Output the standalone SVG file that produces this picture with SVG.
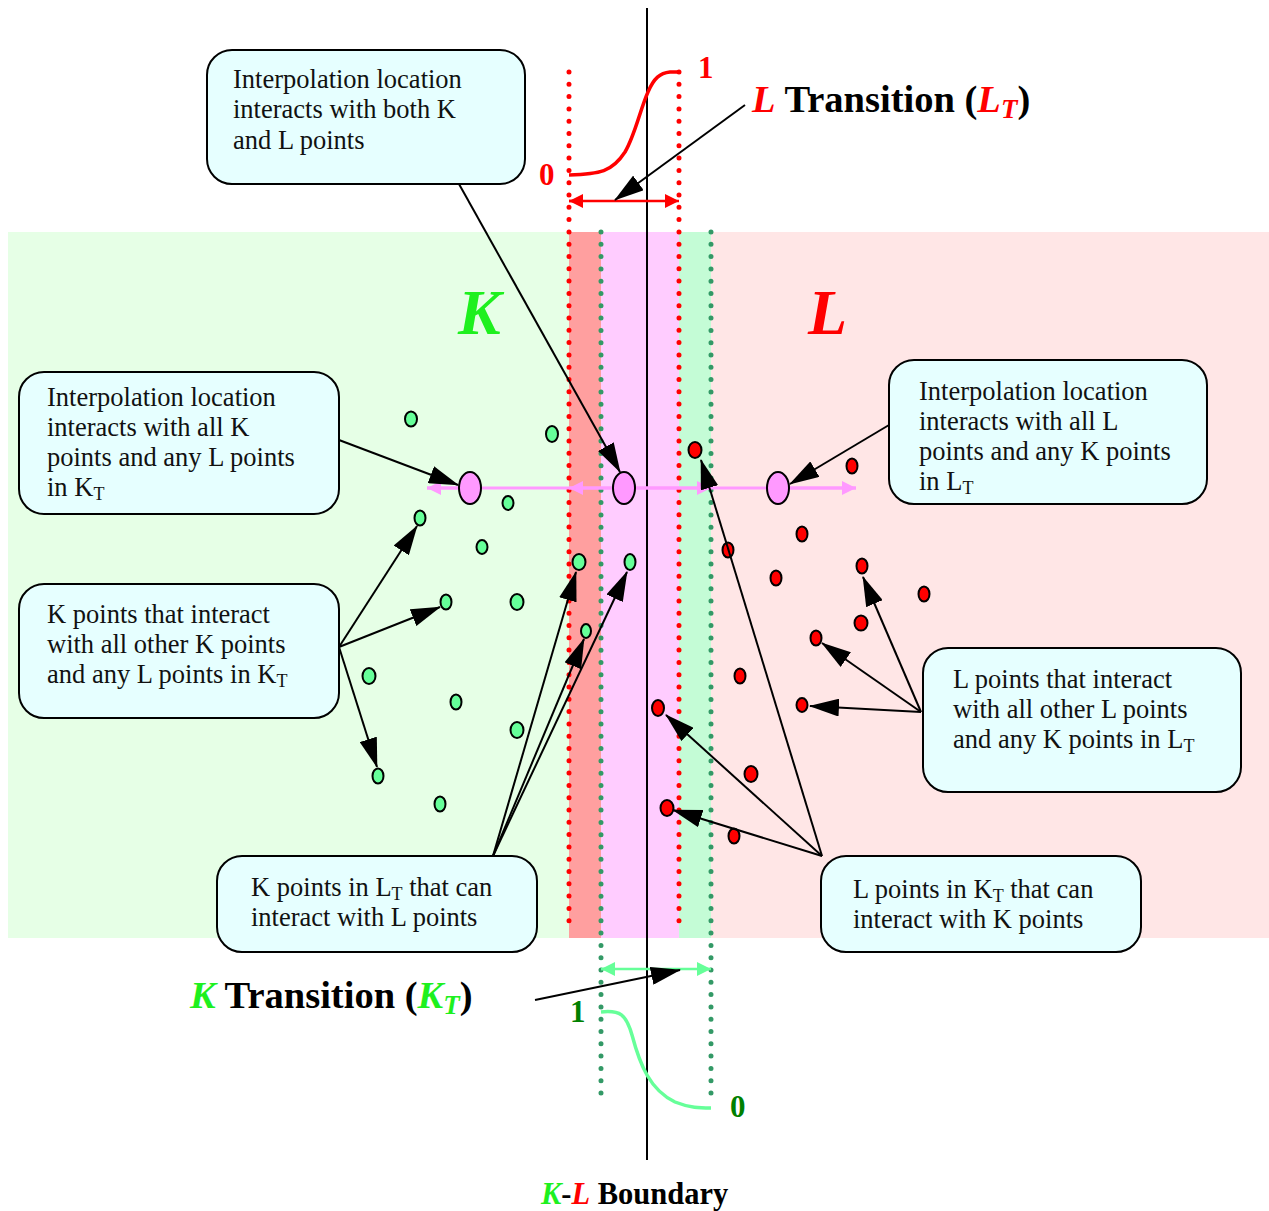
<svg xmlns="http://www.w3.org/2000/svg" width="1269" height="1211" viewBox="0 0 1269 1211">
<style>
.box{fill:#e6ffff;stroke:#000;stroke-width:2}
.bt{font-family:"Liberation Serif","Times New Roman",serif;font-size:26.5px;fill:#111}
.sub{font-size:18px}
.ttl{font-family:"Liberation Serif","Times New Roman",serif;font-weight:bold;font-size:38.5px;fill:#000}
.num{font-family:"Liberation Serif","Times New Roman",serif;font-weight:bold;font-size:31px}
.gd{fill:#66ff99;stroke:#000;stroke-width:2}
.rd{fill:#ff0000;stroke:#000;stroke-width:2}
.il{fill:#ff99ff;stroke:#000;stroke-width:2}
.dotr{stroke:#ff0000;stroke-width:5;stroke-linecap:round;stroke-dasharray:0 12.3;fill:none}
.dotg{stroke:#339966;stroke-width:5;stroke-linecap:round;stroke-dasharray:0 12.3;fill:none}
.ar{stroke:#000;stroke-width:2;fill:none;marker-end:url(#ah)}
.pk{stroke:#ff99ff;stroke-width:3;fill:none}
</style>
<defs>
<marker id="ah" markerUnits="userSpaceOnUse" markerWidth="30" markerHeight="18" viewBox="0 0 30 18" refX="29" refY="9" orient="auto"><path d="M0,0 L30,9 L0,18 z" fill="#000"/></marker>
<marker id="ph" markerUnits="userSpaceOnUse" markerWidth="14" markerHeight="14" viewBox="0 0 14 14" refX="14" refY="7" orient="auto"><path d="M0,0 L14,7 L0,14 z" fill="#ff99ff"/></marker>
<marker id="rh" markerUnits="userSpaceOnUse" markerWidth="14" markerHeight="14" viewBox="0 0 14 14" refX="14" refY="7" orient="auto"><path d="M0,0 L14,7 L0,14 z" fill="#ff0000"/></marker>
<marker id="gh" markerUnits="userSpaceOnUse" markerWidth="14" markerHeight="14" viewBox="0 0 14 14" refX="14" refY="7" orient="auto"><path d="M0,0 L14,7 L0,14 z" fill="#66ff99"/></marker>
</defs>
<rect width="1269" height="1211" fill="#fff"/>
<g id="regions">
<rect x="8" y="232" width="561" height="706" fill="#e6ffe6"/>
<rect x="711" y="232" width="558" height="706" fill="#ffe6e6"/>
<rect x="569" y="232" width="32" height="706" fill="#ff9f9f"/>
<rect x="601" y="232" width="78" height="706" fill="#ffccff"/>
<rect x="679" y="232" width="32" height="706" fill="#c4fcd6"/>
</g>
<g id="guides">
<line class="dotr" x1="569" y1="72" x2="569" y2="932"/>
<line class="dotr" x1="679" y1="72" x2="679" y2="932"/>
<line class="dotg" x1="601" y1="232" x2="601" y2="1105"/>
<line class="dotg" x1="711" y1="232" x2="711" y2="1105"/>
<line x1="647" y1="8" x2="647" y2="1160" stroke="#000" stroke-width="2"/>
<path d="M569,175 C600,174 612,172 625,152 C635,135 640,110 648,92 C654,78 660,73 670,72 L679,72" stroke="#ff0000" stroke-width="3.5" fill="none"/>
<path d="M601,1012 C620,1010 626,1014 632,1035 C640,1065 650,1090 675,1102 C690,1108 700,1108 711,1108" stroke="#66ff99" stroke-width="3.5" fill="none"/>
<line x1="575" y1="201" x2="569" y2="201" stroke="#ff0000" stroke-width="2.5" marker-end="url(#rh)"/>
<line x1="569" y1="201" x2="679" y2="201" stroke="#ff0000" stroke-width="2.5" marker-end="url(#rh)"/>
<line x1="607" y1="969" x2="601" y2="969" stroke="#66ff99" stroke-width="2.5" marker-end="url(#gh)"/>
<line x1="601" y1="969" x2="711" y2="969" stroke="#66ff99" stroke-width="2.5" marker-end="url(#gh)"/>
<line class="pk" x1="427" y1="488" x2="856" y2="488"/>
<line class="pk" x1="470" y1="488" x2="427" y2="488" marker-end="url(#ph)"/>
<line class="pk" x1="623" y1="488" x2="569" y2="488" marker-end="url(#ph)"/>
<line class="pk" x1="623" y1="488" x2="711" y2="488" marker-end="url(#ph)"/>
<line class="pk" x1="777" y1="488" x2="856" y2="488" marker-end="url(#ph)"/>
</g>
<g id="labels">
<text class="num" x="539" y="185" fill="#ff0000">0</text>
<text class="num" x="698" y="78" fill="#ff0000">1</text>
<text class="num" x="570" y="1022" fill="#008000">1</text>
<text class="num" x="730" y="1117" fill="#008000">0</text>
<text class="ttl" x="752" y="112"><tspan fill="#ff0000" font-style="italic">L</tspan> Transition (<tspan fill="#ff0000" font-style="italic">L</tspan><tspan fill="#ff0000" font-style="italic" font-size="27" dy="6">T</tspan><tspan dy="-6">)</tspan></text>
<text class="ttl" x="190" y="1008"><tspan fill="#1ef01e" font-style="italic">K</tspan> Transition (<tspan fill="#1ef01e" font-style="italic">K</tspan><tspan fill="#1ef01e" font-style="italic" font-size="27" dy="6">T</tspan><tspan dy="-6">)</tspan></text>
<text x="541" y="1204" font-family="Liberation Serif, serif" font-weight="bold" font-size="30.5"><tspan fill="#1ef01e" font-style="italic">K</tspan><tspan fill="#000">-</tspan><tspan fill="#ff0000" font-style="italic">L</tspan><tspan fill="#000"> Boundary</tspan></text>
<text x="458" y="334" font-family="Liberation Serif, serif" font-weight="bold" font-style="italic" font-size="64" fill="#1ef01e">K</text>
<text x="808" y="334" font-family="Liberation Serif, serif" font-weight="bold" font-style="italic" font-size="64" fill="#ff0000">L</text>
</g>
<g id="box-both">
<rect class="box" x="207" y="50" width="318" height="134" rx="25"/>
<text class="bt" x="233" y="88">Interpolation location</text>
<text class="bt" x="233" y="118">interacts with both K</text>
<text class="bt" x="233" y="149">and L points</text>
</g>
<g id="box-interp-k">
<rect class="box" x="19" y="372" width="320" height="142" rx="25"/>
<text class="bt" x="47" y="406">Interpolation location</text>
<text class="bt" x="47" y="436">interacts with all K</text>
<text class="bt" x="47" y="466">points and any L points</text>
<text class="bt" x="47" y="496">in K<tspan class="sub" dy="4">T</tspan></text>
</g>
<g id="box-k-points">
<rect class="box" x="19" y="584" width="320" height="134" rx="25"/>
<text class="bt" x="47" y="623">K points that interact</text>
<text class="bt" x="47" y="653">with all other K points</text>
<text class="bt" x="47" y="683">and any L points in K<tspan class="sub" dy="4">T</tspan></text>
</g>
<g id="box-interp-l">
<rect class="box" x="889" y="360" width="318" height="144" rx="25"/>
<text class="bt" x="919" y="400">Interpolation location</text>
<text class="bt" x="919" y="430">interacts with all L</text>
<text class="bt" x="919" y="460">points and any K points</text>
<text class="bt" x="919" y="490">in L<tspan class="sub" dy="4">T</tspan></text>
</g>
<g id="box-l-points">
<rect class="box" x="923" y="648" width="318" height="144" rx="25"/>
<text class="bt" x="953" y="688">L points that interact</text>
<text class="bt" x="953" y="718">with all other L points</text>
<text class="bt" x="953" y="748">and any K points in L<tspan class="sub" dy="4">T</tspan></text>
</g>
<g id="box-k-in-lt">
<rect class="box" x="217" y="856" width="320" height="96" rx="25"/>
<text class="bt" x="251" y="896">K points in L<tspan class="sub" dy="4">T</tspan><tspan dy="-4"> that can</tspan></text>
<text class="bt" x="251" y="926">interact with L points</text>
</g>
<g id="box-l-in-kt">
<rect class="box" x="821" y="856" width="320" height="96" rx="25"/>
<text class="bt" x="853" y="898">L points in K<tspan class="sub" dy="4">T</tspan><tspan dy="-4"> that can</tspan></text>
<text class="bt" x="853" y="928">interact with K points</text>
</g>
<g id="k-points">
<ellipse class="gd" cx="411" cy="419" rx="6" ry="7.5"/>
<ellipse class="gd" cx="552" cy="434" rx="6" ry="8"/>
<ellipse class="gd" cx="508" cy="503" rx="5.5" ry="7"/>
<ellipse class="gd" cx="420" cy="518" rx="5.5" ry="7.5"/>
<ellipse class="gd" cx="482" cy="547" rx="5.5" ry="7"/>
<ellipse class="gd" cx="446" cy="602" rx="5.5" ry="7.5"/>
<ellipse class="gd" cx="517" cy="602" rx="6.5" ry="8"/>
<ellipse class="gd" cx="369" cy="676" rx="6.5" ry="8"/>
<ellipse class="gd" cx="456" cy="702" rx="5.5" ry="7.5"/>
<ellipse class="gd" cx="517" cy="730" rx="6.5" ry="8"/>
<ellipse class="gd" cx="378" cy="776" rx="5.5" ry="7.5"/>
<ellipse class="gd" cx="440" cy="804" rx="5.5" ry="7.5"/>
<ellipse class="gd" cx="579" cy="562" rx="6.5" ry="8"/>
<ellipse class="gd" cx="630" cy="562" rx="5.5" ry="8"/>
<ellipse class="gd" cx="586" cy="631" rx="5" ry="7"/>
</g>
<g id="l-points">
<ellipse class="rd" cx="695" cy="450" rx="6.5" ry="8"/>
<ellipse class="rd" cx="852" cy="466" rx="5.5" ry="7.5"/>
<ellipse class="rd" cx="802" cy="534" rx="5.5" ry="7.5"/>
<ellipse class="rd" cx="728" cy="550" rx="5.5" ry="7.5"/>
<ellipse class="rd" cx="862" cy="566" rx="5.5" ry="7.5"/>
<ellipse class="rd" cx="776" cy="578" rx="5.5" ry="7.5"/>
<ellipse class="rd" cx="924" cy="594" rx="5.5" ry="7.5"/>
<ellipse class="rd" cx="861" cy="623" rx="6.5" ry="7.5"/>
<ellipse class="rd" cx="816" cy="638" rx="5.5" ry="7.5"/>
<ellipse class="rd" cx="740" cy="676" rx="5.5" ry="7.5"/>
<ellipse class="rd" cx="802" cy="705" rx="5.5" ry="7"/>
<ellipse class="rd" cx="751" cy="774" rx="6.5" ry="8"/>
<ellipse class="rd" cx="734" cy="836" rx="5.5" ry="7.5"/>
<ellipse class="rd" cx="658" cy="708" rx="6" ry="8"/>
<ellipse class="rd" cx="667" cy="808" rx="6.5" ry="8"/>
</g>
<g id="interp-locations">
<ellipse class="il" cx="470" cy="488" rx="11" ry="16"/>
<ellipse class="il" cx="624" cy="488" rx="11" ry="16"/>
<ellipse class="il" cx="778" cy="488" rx="11" ry="16"/>
</g>
<g id="connectors">
<line class="ar" x1="745" y1="105" x2="615" y2="200"/>
<line class="ar" x1="535" y1="1000" x2="680" y2="970"/>
<line class="ar" x1="459" y1="184" x2="620" y2="472"/>
<line class="ar" x1="339" y1="440" x2="458" y2="485"/>
<line class="ar" x1="889" y1="425" x2="790" y2="484"/>
<line class="ar" x1="339" y1="647" x2="417" y2="526"/>
<line class="ar" x1="339" y1="647" x2="440" y2="607"/>
<line class="ar" x1="339" y1="647" x2="377" y2="767"/>
<line class="ar" x1="493" y1="856" x2="576" y2="572"/>
<line class="ar" x1="493" y1="856" x2="584" y2="639"/>
<line class="ar" x1="493" y1="856" x2="627" y2="572"/>
<line class="ar" x1="822" y1="856" x2="701" y2="460"/>
<line class="ar" x1="822" y1="856" x2="666" y2="715"/>
<line class="ar" x1="822" y1="856" x2="673" y2="810"/>
<line class="ar" x1="921" y1="712" x2="863" y2="577"/>
<line class="ar" x1="921" y1="712" x2="822" y2="643"/>
<line class="ar" x1="921" y1="712" x2="810" y2="706"/>
</g>
</svg>
